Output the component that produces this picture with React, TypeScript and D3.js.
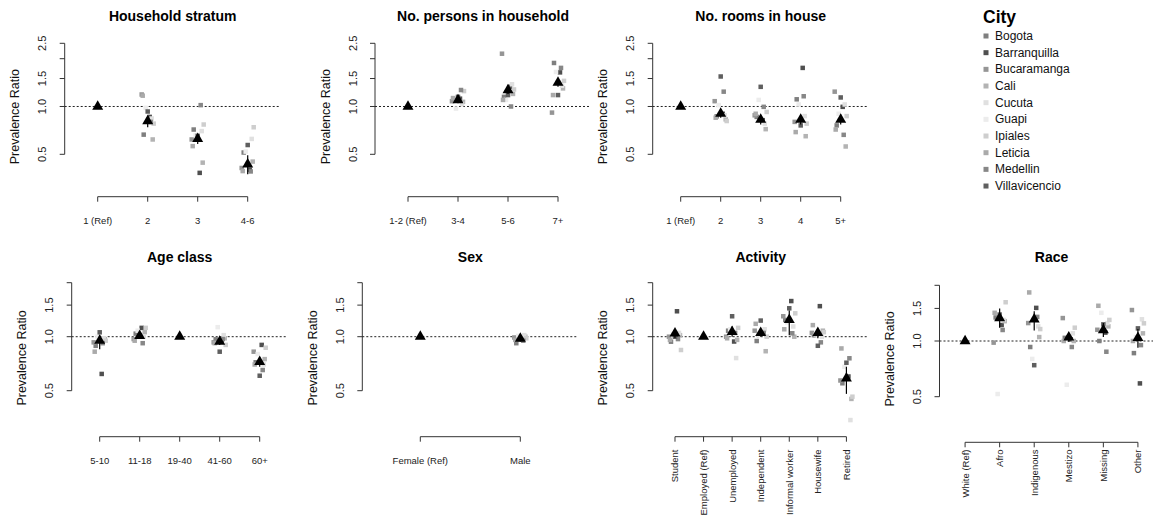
import React from 'react';
import * as d3 from 'd3';

// ---------------- DATA ----------------
const cities = ['Bogota', 'Barranquilla', 'Bucaramanga', 'Cali', 'Cucuta', 'Guapi', 'Ipiales', 'Leticia', 'Medellin', 'Villavicencio'];

// Household stratum
const strataCats = ['1 (Ref)', '2', '3', '4-6'];
const strataCityPR = [
  null,
  [0.665, 0.86, 1.19, 0.62, 0.84, 0.98, 0.78, 1.17, 0.8, 0.93],
  [0.716, 0.382, 0.62, 0.443, 0.7, 0.66, 0.77, 0.563, 1.02, 0.653],
  [0.513, 0.4, 0.41, 0.45, 0.625, 0.52, 0.74, 0.392, 0.39, 0.572],
];
const strataPR = [1, 0.81, 0.625, 0.432];
const strataLo = [null, 0.74, 0.58, 0.374];
const strataHi = [null, 0.87, 0.67, 0.494];

// No. persons in household
const personsCats = ['1-2 (Ref)', '3-4', '5-6', '7+'];
const personsCityPR = [
  null,
  [1.1, 1.12, 1.08, 1.07, 1.035, 0.97, 1.25, 1.13, 1.27, 1.15],
  [1.15, 1.33, 2.15, 1.2, 1.38, 1.1, 1.28, 1.1, 1.0, 1.18],
  [1.88, 1.64, 0.915, 1.3, 1.35, 1.65, 1.45, 1.18, 1.75, 1.18],
];
const personsPR = [1, 1.097, 1.27, 1.415];
const personsLo = [null, 1.05, 1.2, 1.33];
const personsHi = [null, 1.16, 1.35, 1.5];

// No. rooms in house
const roomsCats = ['1 (Ref)', '2', '3', '4', '5+'];
const roomsCityPR = [
  null,
  [0.867, 0.9, 1.08, 0.83, 0.88, 1.02, 0.81, 0.85, 1.24, 1.545],
  [0.86, 0.82, 0.88, 0.72, 0.78, 1.1, 0.924, 0.9, 0.995, 1.33],
  [1.11, 1.75, 0.8, 0.65, 0.87, 1.03, 0.78, 0.69, 1.16, 0.76],
  [0.76, 0.995, 1.24, 0.56, 1.03, 0.9, 0.87, 0.716, 0.663, 1.14],
];
const roomsPR = [1, 0.902, 0.826, 0.826, 0.826];
const roomsLo = [null, 0.85, 0.77, 0.77, 0.77];
const roomsHi = [null, 0.96, 0.88, 0.88, 0.89];

// Age class
const ageCats = ['5-10', '11-18', '19-40', '41-60', '60+'];
const ageCityPR = [
  [0.89, 0.62, 0.93, 0.97, 0.98, 1.0, 0.95, 0.825, 0.92, 1.058],
  [1.04, 1.12, 0.97, 1.06, 1.0, 1.08, 1.12, 0.95, 0.92, 1.02],
  null,
  [0.967, 0.95, 0.93, 0.98, 1.02, 1.13, 0.9, 0.92, 0.97, 0.825],
  [0.72, 0.9, 0.825, 0.75, 0.7, 0.8, 0.868, 0.7, 0.652, 0.606],
];
const agePR = [0.95, 1.01, 1, 0.938, 0.725];
const ageLo = [0.85, 0.97, null, 0.9, 0.68];
const ageHi = [1.02, 1.06, null, 0.98, 0.77];

// Sex
const sexCats = ['Female (Ref)', 'Male'];
const sexCityPR = [
  null,
  [0.92, 0.97, 0.99, 1.0, 1.02, 1.01, 0.98, 0.96, 0.95, 0.97],
];
const sexPR = [1, 0.975];
const sexLo = [null, 0.94];
const sexHi = [null, 1.01];

// Activity
const activityCats = ['Student', 'Employed (Ref)', 'Unemployed', 'Independent', 'Informal worker', 'Housewife', 'Retired'];
const activityCityPR = [
  [0.938, 1.386, 1.0, 1.02, 1.05, 1.03, 0.843, 0.96, 0.97, 1.0],
  null,
  [1.08, 0.94, 1.0, 0.96, 0.76, 1.1, 1.12, 0.98, 1.05, 1.3],
  [0.946, 1.05, 1.08, 0.83, 1.1, 1.02, 1.0, 1.18, 1.05, 1.23],
  [1.24, 1.58, 1.3, 1.0, 1.14, 1.2, 1.35, 1.1, 1.045, 1.44],
  [1.02, 1.48, 1.05, 1.08, 1.0, 1.03, 1.06, 1.16, 0.93, 0.89],
  [0.55, 0.6, 0.57, 0.45, 0.343, 0.68, 0.463, 0.86, 0.758, 0.716],
];
const activityPR = [1.044, 1, 1.066, 1.05, 1.24, 1.05, 0.586];
const activityLo = [0.98, null, 1.0, 1.0, 1.02, 0.98, 0.48];
const activityHi = [1.1, null, 1.14, 1.1, 1.4, 1.1, 0.68];

// Race
const raceCats = ['White (Ref)', 'Afro', 'Indigenous', 'Mestizo', 'Missing', 'Other'];
const raceCityPR = [
  null,
  [1.34, 1.22, 0.98, 1.28, 1.3, 0.517, 1.62, 1.42, 1.147, 1.39],
  [0.928, 1.51, 1.25, 1.05, 1.2, 0.8, 1.16, 1.83, 1.35, 0.74],
  [1.04, 1.02, 1.33, 1.0, 1.1, 0.58, 1.18, 1.0, 0.928, 1.05],
  [1.0, 1.11, 1.15, 1.2, 1.25, 1.42, 1.3, 1.55, 0.875, 1.23],
  [0.86, 0.59, 1.47, 1.1, 1.31, 1.05, 1.246, 1.0, 0.95, 1.17],
];
const racePR = [1, 1.33, 1.31, 1.047, 1.147, 1.04];
const raceLo = [null, 1.18, 1.14, 0.99, 1.05, 0.92];
const raceHi = [null, 1.5, 1.45, 1.1, 1.25, 1.16];

const topTicks = [0.5, 1.0, 1.5, 2.0, 2.5];
const bottomTicks = [0.5, 1.0, 1.5, 2.0];
const unlabelledTicks = [2.0];

// ---------------- STYLE / LAYOUT ----------------
const cityColors = ['#7f7f7f', '#4f4f4f', '#959595', '#b3b3b3', '#e0e0e0', '#ececec', '#cecece', '#aaaaaa', '#878787', '#5f5f5f'];
const cityJitterPx = [-4, 2, -6, 5, 4, -2, 6, -5, 3, 0];
const FONT = "'Liberation Sans', Arial, Helvetica, sans-serif";

type RowLayout = {
  yDomain: [number, number]; yRange: [number, number]; ticks: number[];
  xAxisY: number; titleY: number; ylabY: number; labelY: number;
};
const rows: Record<string, RowLayout> = {
  top: { yDomain: [0.5, 2.5], yRange: [154.3, 43.3], ticks: topTicks, xAxisY: 196.7, titleY: 21, ylabY: 116.7, labelY: 223.5 },
  bottom: { yDomain: [0.5, 2.0], yRange: [390.7, 282.7], ticks: bottomTicks, xAxisY: 436.7, titleY: 261.5, ylabY: 358, labelY: 463.5 },
  race: { yDomain: [0.5, 2.0], yRange: [396.7, 285.3], ticks: bottomTicks, xAxisY: 442.3, titleY: 261.5, ylabY: 359, labelY: 449.5 },
};

type Panel = {
  title: string; cats: string[]; cityPR: (number[] | null)[]; pr: number[];
  lo: (number | null)[]; hi: (number | null)[];
  left: number; width: number; row: string; rotate: boolean;
};

const panels: Panel[] = [
  { title: 'Household stratum', cats: strataCats, cityPR: strataCityPR, pr: strataPR, lo: strataLo, hi: strataHi, left: 64.7, width: 216, row: 'top', rotate: false },
  { title: 'No. persons in household', cats: personsCats, cityPR: personsCityPR, pr: personsPR, lo: personsLo, hi: personsHi, left: 375, width: 216, row: 'top', rotate: false },
  { title: 'No. rooms in house', cats: roomsCats, cityPR: roomsCityPR, pr: roomsPR, lo: roomsLo, hi: roomsHi, left: 652.7, width: 216, row: 'top', rotate: false },
  { title: 'Age class', cats: ageCats, cityPR: ageCityPR, pr: agePR, lo: ageLo, hi: ageHi, left: 71.7, width: 216, row: 'bottom', rotate: false },
  { title: 'Sex', cats: sexCats, cityPR: sexCityPR, pr: sexPR, lo: sexLo, hi: sexHi, left: 362.3, width: 216, row: 'bottom', rotate: false },
  { title: 'Activity', cats: activityCats, cityPR: activityCityPR, pr: activityPR, lo: activityLo, hi: activityHi, left: 652.7, width: 216, row: 'bottom', rotate: true },
  { title: 'Race', cats: raceCats, cityPR: raceCityPR, pr: racePR, lo: raceLo, hi: raceHi, left: 939.5, width: 224, row: 'race', rotate: true },
];

const triangle = d3.symbol().type(d3.symbolTriangle).size(52)() as string;
const fmt = d3.format('.1f');

function PanelView({ p }: { p: Panel }) {
  const r = rows[p.row];
  const n = p.cats.length;
  const pad = 0.04 * n;
  const x = d3.scaleLinear().domain([0.5 - pad, n + 0.5 + pad]).range([p.left, p.left + p.width]);
  const y = d3.scaleLog().domain(r.yDomain).range(r.yRange);
  const right = p.left + p.width;
  const cx = (i: number) => x(i + 1);
  const axisColor = '#333';
  return (
    <g>
      <text x={(p.left + right) / 2} y={r.titleY} textAnchor="middle" fontFamily={FONT} fontWeight="bold" fontSize={14}>{p.title}</text>
      {/* y axis */}
      <line x1={p.left} x2={p.left} y1={y(r.yDomain[0])} y2={y(r.yDomain[1])} stroke={axisColor} strokeWidth={1} />
      {r.ticks.map((t) => (
        <g key={t}>
          <line x1={p.left - 5} x2={p.left} y1={y(t)} y2={y(t)} stroke={axisColor} strokeWidth={1} />
          {!unlabelledTicks.includes(t) && (
            <text transform={`translate(${p.left - 18.5},${y(t)}) rotate(-90)`} textAnchor="middle" fontFamily={FONT} fontSize={11} fill="#222">{fmt(t)}</text>
          )}
        </g>
      ))}
      <text transform={`translate(${p.left - 45.5},${r.ylabY}) rotate(-90)`} textAnchor="middle" fontFamily={FONT} fontSize={12.5} fill="#111">Prevalence Ratio</text>
      {/* x axis */}
      <line x1={cx(0)} x2={cx(n - 1)} y1={r.xAxisY} y2={r.xAxisY} stroke={axisColor} strokeWidth={1} />
      {p.cats.map((c, i) => (
        <g key={c}>
          <line x1={cx(i)} x2={cx(i)} y1={r.xAxisY} y2={r.xAxisY + 5} stroke={axisColor} strokeWidth={1} />
          {p.rotate ? (
            <text transform={`translate(${cx(i) + 3.5},${449.5}) rotate(-90)`} textAnchor="end" fontFamily={FONT} fontSize={9.5} fill="#222">{c}</text>
          ) : (
            <text x={cx(i)} y={r.labelY} textAnchor="middle" fontFamily={FONT} fontSize={9.5} fill="#222">{c}</text>
          )}
        </g>
      ))}
      {/* reference line */}
      <line x1={p.left} x2={right} y1={y(1)} y2={y(1)} stroke="#222" strokeWidth={1} strokeDasharray="2,2" />
      {/* city points */}
      {p.cityPR.map((vals, i) =>
        vals ? vals.map((v, k) => (
          <rect key={`${i}-${k}`} x={cx(i) + cityJitterPx[k] - 2.25} y={y(v) - 2.25} width={4.5} height={4.5} fill={cityColors[k]} />
        )) : null
      )}
      {/* pooled estimates */}
      {p.pr.map((v, i) => (
        <g key={`pr-${i}`}>
          {p.lo[i] != null && p.hi[i] != null && (
            <line x1={cx(i)} x2={cx(i)} y1={y(p.lo[i] as number)} y2={y(p.hi[i] as number)} stroke="#000" strokeWidth={1.2} />
          )}
          <path d={triangle} transform={`translate(${cx(i)},${y(v)})`} fill="#000" />
        </g>
      ))}
    </g>
  );
}

function Legend() {
  const lx = 983;
  return (
    <g>
      <text x={lx} y={23} fontFamily={FONT} fontWeight="bold" fontSize={17.5}>City</text>
      {cities.map((c, i) => (
        <g key={c}>
          <rect x={lx + 0.5} y={36 + i * 16.67 - 2.5} width={5} height={5} fill={cityColors[i]} />
          <text x={lx + 12} y={36 + i * 16.67} dominantBaseline="central" fontFamily={FONT} fontSize={12} fill="#111">{c}</text>
        </g>
      ))}
    </g>
  );
}

export default function App() {
  return (
    <svg width={1153} height={515} style={{ position: 'absolute', left: 0, top: 0, background: '#fff' }}>
      <rect width={1153} height={515} fill="#fff" />
      {panels.map((p) => <PanelView key={p.title} p={p} />)}
      <Legend />
    </svg>
  );
}
